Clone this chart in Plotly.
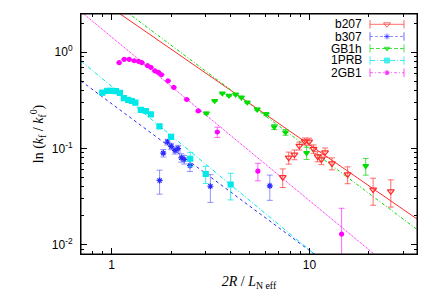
import numpy as np
import plotly.graph_objects as go

# ---------------- data ----------------
b207_x = [7.33, 7.86, 8.40, 8.90, 9.47, 9.97, 10.5, 11.0, 11.5, 12.0, 13.0, 15.6, 21.0, 25.8]
b207_y = [0.0503, 0.0802, 0.0864, 0.1064, 0.1186, 0.118, 0.099, 0.0827, 0.0769, 0.0911, 0.0699, 0.0537, 0.0374, 0.0359]
b207_e = [0.011, 0.0115, 0.010, 0.010, 0.010, 0.010, 0.010, 0.010, 0.009, 0.010, 0.010, 0.0107, 0.0117, 0.0113]

b307_x = [1.748, 1.825, 1.914, 2.002, 2.090, 2.168, 2.249, 2.328, 2.491, 3.157, 6.307]
b307_y = [0.0465, 0.0895, 0.1166, 0.1052, 0.0955, 0.0998, 0.0801, 0.0769, 0.0666, 0.0405, 0.0409]
b307_e = [0.013, 0.008, 0.008, 0.008, 0.008, 0.008, 0.008, 0.008, 0.009, 0.013, 0.012]

gb1h_x = [3.014, 3.319, 3.629, 3.917, 4.236, 4.530, 4.852, 5.448, 6.047, 6.637, 7.568, 9.68, 19.27]
gb1h_y = [0.2325, 0.3125, 0.3742, 0.3549, 0.3643, 0.3391, 0.3014, 0.2547, 0.228, 0.1673, 0.1473, 0.0899, 0.0658]
gb1h_e = [0.006, 0.006, 0.006, 0.006, 0.006, 0.006, 0.006, 0.008, 0.008, 0.010, 0.010, 0.013, 0.013]

p1prb_x = [0.897, 0.950, 1.000, 1.051, 1.101, 1.153, 1.212, 1.266, 1.318, 1.405, 1.489, 1.578, 1.746, 1.998, 2.497, 2.989, 3.997]
p1prb_y = [0.3804, 0.3974, 0.3974, 0.3945, 0.3788, 0.3334, 0.320, 0.3116, 0.299, 0.2517, 0.2452, 0.2259, 0.1701, 0.1322, 0.0782, 0.0543, 0.0422]
p1prb_e = [0.005, 0.005, 0.005, 0.005, 0.005, 0.005, 0.005, 0.005, 0.005, 0.006, 0.006, 0.006, 0.007, 0.008, 0.013, 0.011, 0.013]

g2gb1_x = [1.092, 1.158, 1.227, 1.300, 1.368, 1.422, 1.519, 1.578, 1.654, 1.726, 1.787, 1.929, 2.062, 2.398, 2.743, 3.423, 5.488, 14.55]
g2gb1_y = [0.779, 0.845, 0.845, 0.817, 0.806, 0.779, 0.725, 0.697, 0.642, 0.618, 0.584, 0.505, 0.431, 0.323, 0.2457, 0.1483, 0.0581, 0.0129]
g2gb1_e = [0.004, 0.004, 0.004, 0.004, 0.004, 0.004, 0.004, 0.004, 0.004, 0.004, 0.004, 0.004, 0.004, 0.004, 0.004, 0.018, 0.012, 0.011]

# power-law fits  y = A * x^(-b)
fit_A = {"b207": 2.88, "b307": 0.292, "GB1h": 3.44, "1PRB": 0.442, "2GB1": 1.44}
fit_b = {"b207": 1.42, "b307": 1.525, "GB1h": 1.54, "1PRB": 1.70, "2GB1": 1.70}

names = ["b207", "b307", "GB1h", "1PRB", "2GB1"]
xs = {"b207": b207_x, "b307": b307_x, "GB1h": gb1h_x, "1PRB": p1prb_x, "2GB1": g2gb1_x}
ys = {"b207": b207_y, "b307": b307_y, "GB1h": gb1h_y, "1PRB": p1prb_y, "2GB1": g2gb1_y}
es = {"b207": b207_e, "b307": b307_e, "GB1h": gb1h_e, "1PRB": p1prb_e, "2GB1": g2gb1_e}

x_range = [0.7, 35]
y_range = [0.008, 2.5]

# ---------------- styles ----------------
colors = {"b207": "#ff2a2a", "b307": "#2a2aff", "GB1h": "#00dd00", "1PRB": "#00e8e8", "2GB1": "#ff00ff"}
err_colors = {"b207": "rgba(255,60,60,0.75)", "b307": "rgba(60,60,255,0.55)", "GB1h": "rgba(0,210,0,0.7)",
              "1PRB": "rgba(0,230,230,0.75)", "2GB1": "rgba(255,0,255,0.6)"}
dashes = {"b207": "solid", "b307": "dot", "GB1h": "3px,2px,1px,2px", "1PRB": "4px,2px,1px,2px", "2GB1": "1px,1px"}
leg_dashes = {"b207": "solid", "b307": "3px,2px", "GB1h": "4px,2px", "1PRB": "5px,2px,1px,2px", "2GB1": "3px,2px,1px,2px"}
symbols = {"b207": "triangle-down-open", "b307": "asterisk-open", "GB1h": "triangle-down",
           "1PRB": "square", "2GB1": "circle"}
sizes = {"b207": 6, "b307": 5, "GB1h": 5, "1PRB": 5, "2GB1": 4}

fig = go.Figure()

# fit lines
xf = np.array(x_range, dtype=float)
for n in names:
    yf = fit_A[n] * xf ** (-fit_b[n])
    fig.add_trace(go.Scatter(x=xf, y=yf, mode="lines", showlegend=False, hoverinfo="skip",
                             line=dict(color=colors[n], width=1, dash=dashes[n])))

# data points
for n in names:
    fig.add_trace(go.Scatter(
        x=xs[n], y=ys[n], mode="markers", name=n, showlegend=False,
        marker=dict(symbol=symbols[n], size=sizes[n], color=colors[n],
                    line=dict(color=colors[n], width=1.2)),
        error_y=dict(type="data", array=es[n], color=err_colors[n], thickness=1, width=3)))

# custom legend (text on the left, sample on the right, gnuplot style)
L, R, T, B = 81, 19, 14, 51
W, H = 436, 305
pw, ph = W - L - R, H - T - B
row_px = [24.3, 36.5, 48.5, 60.5, 72.7]
row_y = [(T + ph - p) / ph for p in row_px]
x0 = (370 - L) / pw
x1 = (404 - L) / pw
text_x = (364 - L) / pw
for i, n in enumerate(names):
    fig.add_trace(go.Scatter(
        x=[0, 0.5, 1], y=[row_y[i]] * 3, xaxis="x2", yaxis="y2", mode="lines+markers",
        showlegend=False, hoverinfo="skip", cliponaxis=False,
        line=dict(color=err_colors[n], width=1, dash=leg_dashes[n]),
        marker=dict(symbol=["line-ns", symbols[n], "line-ns"], size=[6, sizes[n], 6],
                    color=colors[n], line=dict(color=colors[n], width=1))))
    fig.add_annotation(x=text_x, y=row_y[i], xref="paper", yref="paper", text=n, showarrow=False,
                       xanchor="right", yanchor="middle",
                       font=dict(family="Liberation Sans, Arial", size=12, color="black"))

# plot frame
fig.add_shape(type="rect", xref="paper", yref="paper", x0=0, y0=0, x1=1, y1=1,
              line=dict(color="black", width=1), fillcolor="rgba(0,0,0,0)", layer="above")

minor_x = [0.8, 0.9, 2, 3, 4, 5, 6, 7, 8, 9, 20, 30]
minor_y = [0.009, 0.02, 0.03, 0.04, 0.05, 0.06, 0.07, 0.08, 0.09,
           0.2, 0.3, 0.4, 0.5, 0.6, 0.7, 0.8, 0.9, 2]

fig.update_layout(
    width=W, height=H, margin=dict(l=L, r=R, t=T, b=B, autoexpand=False),
    paper_bgcolor="white", plot_bgcolor="rgba(0,0,0,0)",
    font=dict(family="Liberation Sans, Arial", size=12, color="black"),
    xaxis=dict(type="log", range=[np.log10(x_range[0]), np.log10(x_range[1])], automargin=False,
               domain=[0, 1],
               tickvals=[1, 10], ticktext=["1", "10"], ticks="inside", ticklen=6, tickcolor="black",
               showline=True, linecolor="black", linewidth=1, mirror="ticks", showgrid=False, zeroline=False,
               minor=dict(tickvals=minor_x, ticks="inside", ticklen=3, tickcolor="black", showgrid=False),
               title=dict(text="<i>2R</i> / <i>L</i><sub>N eff</sub>", standoff=4,
                          font=dict(family="Liberation Serif, Times New Roman", size=14))),
    yaxis=dict(type="log", range=[np.log10(y_range[0]), np.log10(y_range[1])], automargin=False,
               domain=[0, 1],
               tickvals=[0.01, 0.1, 1], ticktext=["10<sup>-2</sup>", "10<sup>-1</sup>", "10<sup>0</sup>"],
               ticks="inside", ticklen=6, tickcolor="black", ticklabelstandoff=5,
               showline=True, linecolor="black", linewidth=1, mirror="ticks", showgrid=False, zeroline=False,
               minor=dict(tickvals=minor_y, ticks="inside", ticklen=3, tickcolor="black", showgrid=False),
               title=dict(text="ln (<i>k</i><sub>f</sub> / <i>k</i><sub>f</sub><sup>0</sup>)", standoff=4,
                          font=dict(family="Liberation Serif, Times New Roman", size=14))),
    xaxis2=dict(domain=[x0, x1], range=[0, 1], visible=False, anchor="y2", fixedrange=True, automargin=False),
    yaxis2=dict(domain=[0, 1], range=[0, 1], visible=False, anchor="x2", fixedrange=True, automargin=False),
)

# remove the browser's default 8px page margin so the figure sits at (0, 0)
fig.write_html("out.html", config={"displayModeBar": False},
               post_script="document.body.style.margin='0';")
